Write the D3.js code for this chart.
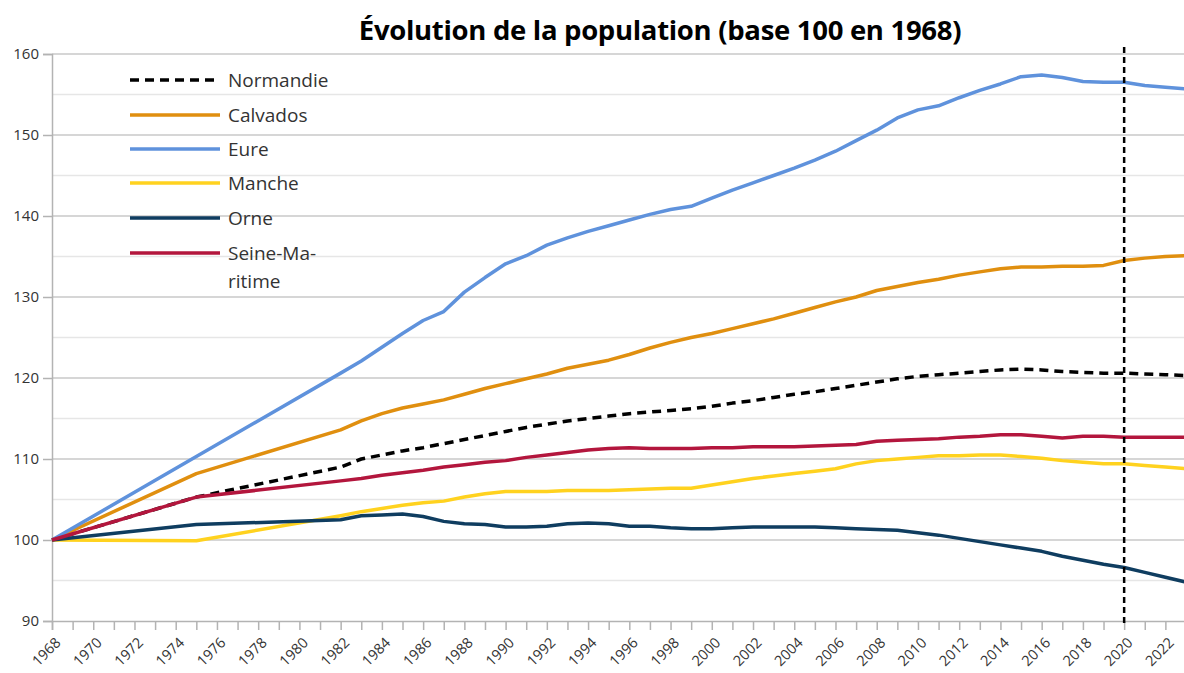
<!DOCTYPE html>
<html>
<head>
<meta charset="utf-8">
<script src="https://cdn.jsdelivr.net/npm/d3@7"></script>
<style>
  body { margin: 0; background: #fff; }
  svg { display: block; font-family: "Open Sans", sans-serif; }
</style>
</head>
<body>
<svg id="chart" width="1184" height="673"></svg>
<script>
// years used by every series (1968 and 1975 census, then yearly)
const years = [1968, 1975, 1982, 1983, 1984, 1985, 1986, 1987, 1988, 1989, 1990,
  1991, 1992, 1993, 1994, 1995, 1996, 1997, 1998, 1999, 2000, 2001, 2002, 2003,
  2004, 2005, 2006, 2007, 2008, 2009, 2010, 2011, 2012, 2013, 2014, 2015, 2016,
  2017, 2018, 2019, 2020, 2021, 2022, 2023];

const normandie = [100, 105.3, 109.0, 110.0, 110.5, 111.0, 111.4, 111.9, 112.4, 112.9, 113.4,
  113.9, 114.3, 114.7, 115.0, 115.3, 115.6, 115.8, 116.0, 116.2, 116.5, 116.9, 117.2, 117.6,
  118.0, 118.3, 118.7, 119.1, 119.5, 119.9, 120.2, 120.4, 120.6, 120.8, 121.0, 121.1, 121.0,
  120.8, 120.7, 120.6, 120.6, 120.5, 120.4, 120.3];

const calvados = [100, 108.2, 113.6, 114.7, 115.6, 116.3, 116.8, 117.3, 118.0, 118.7, 119.3,
  119.9, 120.5, 121.2, 121.7, 122.2, 122.9, 123.7, 124.4, 125.0, 125.5, 126.1, 126.7, 127.3,
  128.0, 128.7, 129.4, 130.0, 130.8, 131.3, 131.8, 132.2, 132.7, 133.1, 133.5, 133.7, 133.7,
  133.8, 133.8, 133.9, 134.5, 134.8, 135.0, 135.1];

const eure = [100, 110.3, 120.6, 122.1, 123.8, 125.5, 127.1, 128.2, 130.6, 132.4, 134.1,
  135.1, 136.4, 137.3, 138.1, 138.8, 139.5, 140.2, 140.8, 141.2, 142.2, 143.2, 144.1, 145.0,
  145.9, 146.9, 148.0, 149.3, 150.6, 152.1, 153.1, 153.6, 154.6, 155.5, 156.3, 157.2, 157.4,
  157.1, 156.6, 156.5, 156.5, 156.1, 155.9, 155.7];

const manche = [100, 99.9, 103.0, 103.5, 103.9, 104.3, 104.6, 104.8, 105.3, 105.7, 106.0,
  106.0, 106.0, 106.1, 106.1, 106.1, 106.2, 106.3, 106.4, 106.4, 106.8, 107.2, 107.6, 107.9,
  108.2, 108.5, 108.8, 109.4, 109.8, 110.0, 110.2, 110.4, 110.4, 110.5, 110.5, 110.3, 110.1,
  109.8, 109.6, 109.4, 109.4, 109.2, 109.0, 108.8];

const orne = [100, 101.9, 102.5, 103.0, 103.1, 103.2, 102.9, 102.3, 102.0, 101.9, 101.6,
  101.6, 101.7, 102.0, 102.1, 102.0, 101.7, 101.7, 101.5, 101.4, 101.4, 101.5, 101.6, 101.6,
  101.6, 101.6, 101.5, 101.4, 101.3, 101.2, 100.9, 100.6, 100.2, 99.8, 99.4, 99.0, 98.6,
  98.0, 97.5, 97.0, 96.6, 96.0, 95.4, 94.8];

const seineMaritime = [100, 105.3, 107.3, 107.6, 108.0, 108.3, 108.6, 109.0, 109.3, 109.6, 109.8,
  110.2, 110.5, 110.8, 111.1, 111.3, 111.4, 111.3, 111.3, 111.3, 111.4, 111.4, 111.5, 111.5,
  111.5, 111.6, 111.7, 111.8, 112.2, 112.3, 112.4, 112.5, 112.7, 112.8, 113.0, 113.0, 112.8,
  112.6, 112.8, 112.8, 112.7, 112.7, 112.7, 112.7];

const yTicks = [90, 100, 110, 120, 130, 140, 150, 160];
const yMinorTicks = [95, 105, 115, 125, 135, 145, 155];
const markerYear = 2020;

const series = [
  { name: "Normandie", values: normandie, color: "#000000", dash: "9,6" },
  { name: "Calvados", values: calvados, color: "#e08f0f" },
  { name: "Eure", values: eure, color: "#5f92dc" },
  { name: "Manche", values: manche, color: "#ffd21f" },
  { name: "Orne", values: orne, color: "#0f3d60" },
  { name: "Seine-Maritime", label: ["Seine-Ma-", "ritime"], values: seineMaritime, color: "#b3163d" },
];

const svg = d3.select("#chart");
const margin = { top: 54, left: 52, bottom: 52 };
const height = 673 - margin.top - margin.bottom;

const x = d3.scaleLinear().domain([1968, 2023]).range([margin.left, 1186]);
const y = d3.scaleLinear().domain([90, 160]).range([margin.top + height, margin.top]);

// title
svg.append("text")
  .attr("x", 660)
  .attr("y", 40)
  .attr("text-anchor", "middle")
  .style("font-size", "27.5px")
  .style("font-weight", "bold")
  .style("letter-spacing", "-0.3px")
  .style("fill", "#000")
  .text("Évolution de la population (base 100 en 1968)");

// grid
const grid = svg.append("g");
grid.selectAll("line.minor")
  .data(yMinorTicks)
  .join("line")
  .attr("x1", margin.left).attr("x2", 1184)
  .attr("y1", (d) => y(d)).attr("y2", (d) => y(d))
  .attr("stroke", "#e6e6e6").attr("stroke-width", 1.5);
grid.selectAll("line.major")
  .data(yTicks.slice(1))
  .join("line")
  .attr("x1", margin.left).attr("x2", 1184)
  .attr("y1", (d) => y(d)).attr("y2", (d) => y(d))
  .attr("stroke", "#c8c8c8").attr("stroke-width", 1.5);

// Y axis
const yAxis = svg.append("g")
  .attr("transform", `translate(${margin.left},0)`)
  .call(d3.axisLeft(y).tickValues(yTicks).tickSize(9).tickPadding(4));
yAxis.select(".domain").attr("stroke", "#b3b3b3").attr("stroke-width", 1.5);
yAxis.selectAll(".tick line").attr("stroke", "#b3b3b3").attr("stroke-width", 1.5);
yAxis.selectAll("text")
  .style("font-size", "15px")
  .style("fill", "#333")
  .style("font-family", "'Open Sans', sans-serif");

// X axis
const xAxis = svg.append("g")
  .attr("transform", `translate(0,${y(90)})`)
  .call(d3.axisBottom(x).tickValues(d3.range(1968, 2024)).tickSize(9).tickFormat(""));
xAxis.select(".domain").attr("stroke", "#b3b3b3").attr("stroke-width", 1.5);
xAxis.selectAll(".tick line").attr("stroke", "#b3b3b3").attr("stroke-width", 1.5);

svg.append("g")
  .selectAll("text")
  .data(d3.range(1968, 2023, 2))
  .join("text")
  .attr("transform", (d) => `translate(${x(d) + 6},${y(90) + 19}) rotate(-45)`)
  .attr("text-anchor", "end")
  .attr("dy", "0.35em")
  .style("font-size", "14.5px")
  .style("fill", "#333")
  .text((d) => d);

// lines
const line = d3.line()
  .x((d) => x(d[0]))
  .y((d) => y(d[1]));

svg.append("defs").append("clipPath").attr("id", "clip")
  .append("rect").attr("x", margin.left - 2).attr("y", 0).attr("width", 1184).attr("height", 673);

const linesG = svg.append("g").attr("clip-path", "url(#clip)");
linesG.selectAll("path")
  .data(series)
  .join("path")
  .attr("d", (s) => line(years.map((yr, i) => [yr, s.values[i]])))
  .attr("fill", "none")
  .attr("stroke", (s) => s.color)
  .attr("stroke-width", 3.5)
  .attr("stroke-dasharray", (s) => s.dash || null)
  .attr("stroke-linejoin", "round");

// vertical marker at 2020
svg.append("line")
  .attr("x1", x(markerYear)).attr("x2", x(markerYear))
  .attr("y1", 47).attr("y2", y(90) + 3)
  .attr("stroke", "#000")
  .attr("stroke-width", 2.5)
  .attr("stroke-dasharray", "6,4");

// legend
const legendRows = [80, 115, 149, 183, 218, 253];
const legend = svg.append("g");
series.forEach((s, i) => {
  const ly = legendRows[i];
  legend.append("line")
    .attr("x1", 130).attr("x2", 220)
    .attr("y1", ly).attr("y2", ly)
    .attr("stroke", s.color)
    .attr("stroke-width", 3.5)
    .attr("stroke-dasharray", s.dash || null);
  const lines = s.label || [s.name];
  lines.forEach((t, j) => {
    legend.append("text")
      .attr("x", 228)
      .attr("y", ly + j * 28)
      .attr("dy", "0.35em")
      .style("font-size", "19px")
      .style("fill", "#333")
      .text(t);
  });
});
</script>
</body>
</html>
